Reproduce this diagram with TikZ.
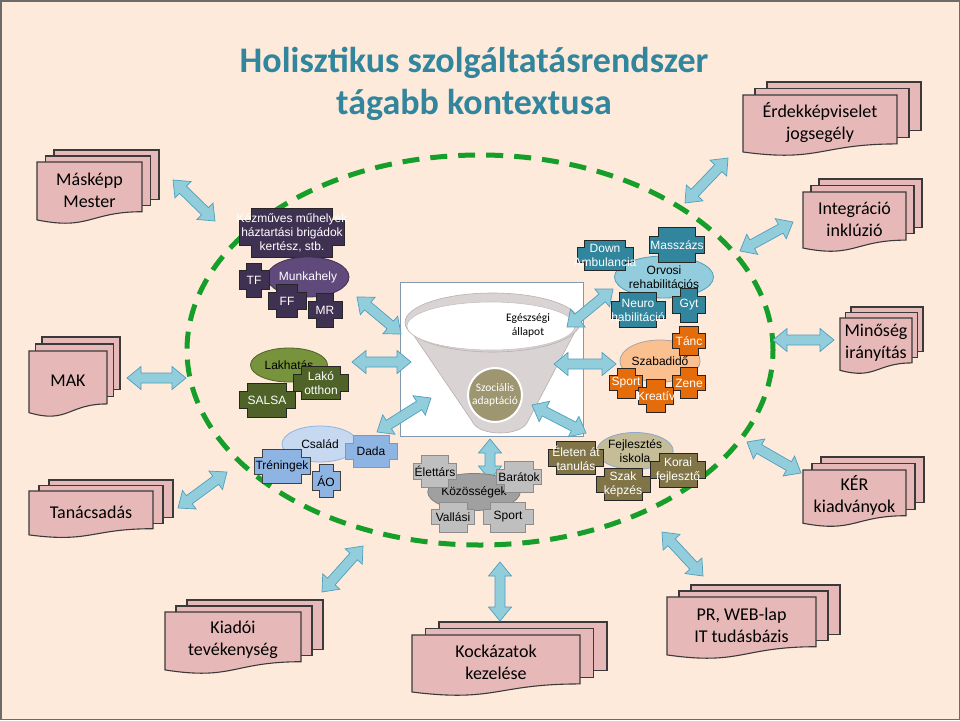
\documentclass[tikz,border=0pt]{standalone}
\usepackage{fontspec}
\setmainfont{Carlito}
\newfontfamily\arialf{Liberation Sans}
\usetikzlibrary{calc,shapes.geometric}
\definecolor{bg}{HTML}{FDEADA}
\definecolor{framec}{HTML}{6B6B6B}
\definecolor{titlec}{HTML}{31859C}
\definecolor{pinkc}{HTML}{E6B9B8}
\definecolor{docline}{HTML}{3A3A3A}
\definecolor{greenc}{HTML}{169E2A}
\definecolor{arrfill}{HTML}{92CDDC}
\definecolor{arrline}{HTML}{4F9FBD}
\definecolor{purd}{HTML}{3F3151}
\definecolor{purm}{HTML}{604A7B}
\definecolor{grnl}{HTML}{77933C}
\definecolor{grnd}{HTML}{4F6228}
\definecolor{teald}{HTML}{31859C}
\definecolor{teall}{HTML}{93CDDD}
\definecolor{orad}{HTML}{E46C0A}
\definecolor{oral}{HTML}{FAC090}
\definecolor{blul}{HTML}{C6D9F1}
\definecolor{blum}{HTML}{8EB4E3}
\definecolor{gryd}{HTML}{A0A0A0}
\definecolor{gryl}{HTML}{BFBFBF}
\definecolor{tanl}{HTML}{C4BD97}
\definecolor{tand}{HTML}{817547}
\definecolor{funnelc}{HTML}{DAD3D3}
\definecolor{funnell}{HTML}{B8B0B0}
\definecolor{khaki}{HTML}{9E9571}
\definecolor{boxline}{HTML}{8497B0}

% multi-document shape: name, x1, y1, w, H, dx, dy, text
\newcommand\mdoc[8]{%
  \filldraw[docsty] (#2+2*#6,#3-2*#7) rectangle (#2+#4+2*#6,#3+0.802*#5-2*#7);
  \filldraw[docsty] (#2+#6,#3-#7) rectangle (#2+#4+#6,#3+0.802*#5-#7);
  \filldraw[docsty] (#2,#3) -- (#2+#4,#3) -- (#2+#4,#3+0.802*#5)
     .. controls (#2+0.5*#4,#3+0.802*#5) and (#2+0.5*#4,#3+1.107*#5) .. (#2,#3+0.934*#5) -- cycle;
  \node[doctext] (#1) at (#2+0.5*#4,#3+0.45*#5) {#8};
}
% plus-shaped node: [style]{textcolor}{name}{cx}{cy}{w}{h}{text}
\newcommand\pnode[8][]{%
  \pgfmathsetmacro\pn{0.25*min(#6,#7)}%
  \pgfmathsetmacro\pa{#4-#6/2}%
  \pgfmathsetmacro\pb{#5-#7/2}%
  \pgfmathsetmacro\pc{#4+#6/2}%
  \pgfmathsetmacro\pd{#5+#7/2}%
  \filldraw[#1] (\pa+\pn,\pb) -- (\pc-\pn,\pb) -- (\pc-\pn,\pb+\pn) -- (\pc,\pb+\pn) -- (\pc,\pd-\pn) -- (\pc-\pn,\pd-\pn) -- (\pc-\pn,\pd) -- (\pa+\pn,\pd) -- (\pa+\pn,\pd-\pn) -- (\pa,\pd-\pn) -- (\pa,\pb+\pn) -- (\pa+\pn,\pb+\pn) -- cycle;
  \node[ntext, text=#2] (#3) at (#4,#5) {#8};
}
% block double arrow between two named coordinates
\newcommand\barrow[2]{%
  \path let \p1=(#1), \p2=(#2) in \pgfextra{%
    \pgfmathsetmacro\tmpA{atan2(\y2-\y1,\x2-\x1)}%
    \pgfmathsetmacro\tmpL{veclen(\x2-\x1,\y2-\y1)}%
    \xdef\BA{\tmpA}\xdef\BL{\tmpL}};
  \begin{scope}[shift={(#1)}, rotate=\BA]
    \filldraw[barrowsty] (0pt,0pt) -- (14pt,11.5pt) -- (14pt,5pt) -- (\BL pt-14pt,5pt) -- (\BL pt-14pt,11.5pt) -- (\BL pt,0pt) -- (\BL pt-14pt,-11.5pt) -- (\BL pt-14pt,-5pt) -- (14pt,-5pt) -- (14pt,-11.5pt) -- cycle;
  \end{scope}}

\begin{document}
\begin{tikzpicture}[x=1pt,y=-1pt,
  docsty/.style={fill=pinkc, draw=docline, line width=1.1pt},
  doctext/.style={font=\fontsize{18}{22}\selectfont, align=center, inner sep=0pt},
  ntext/.style={font=\arialf\fontsize{12}{14}\selectfont, align=center, inner sep=0pt},
  barrowsty/.style={fill=arrfill, draw=arrline, line width=0.7pt},
  pur/.style={fill=purd, draw=black!85, line width=0.8pt},
  grn/.style={fill=grnd, draw=black!85, line width=0.8pt},
  tea/.style={fill=teald, draw=black!85, line width=0.8pt},
  ora/.style={fill=orad, draw=black!85, line width=0.8pt},
  blu/.style={fill=blum, draw=black!75, line width=0.8pt},
  blus/.style={fill=blum, draw=blum!85!black, line width=0.8pt},
  gry/.style={fill=gryl, draw=gray!90, line width=0.8pt},
  tan/.style={fill=tand, draw=black!85, line width=0.8pt},
  ell/.style={ellipse, inner sep=0pt, line width=0.8pt, font=\arialf\fontsize{12}{14}\selectfont, align=center}
]
\useasboundingbox (0,0) rectangle (960,720);
\fill[bg] (0,0) rectangle (960,720);
\draw[framec, line width=1.5pt] (0.75,0.75) rectangle (959.25,719.25);

% title
\node[font=\bfseries\fontsize{36}{42}\selectfont, text=titlec, align=center, inner sep=0pt] (title) at (474,84) {Holisztikus szolgáltatásrendszer\\tágabb kontextusa};

% dashed boundary
\draw[greenc, line width=5pt, dash pattern=on 17pt off 11pt] (480,350) ellipse [x radius=293pt, y radius=195pt];

% outer documents
\mdoc{maskepp}{37}{162}{105}{62}{8.5}{6}{Másképp\\Mester}
\mdoc{erdek}{743}{95}{154}{61}{12}{6.5}{Érdekképviselet\\jogsegély}
\mdoc{integr}{803}{192}{103}{60}{8}{6.5}{Integráció\\inklúzió}
\mdoc{minoseg}{840}{318}{72}{56}{5.5}{5.5}{Minőség\\irányítás}
\mdoc{ker}{803}{470}{103}{57}{9}{6.5}{KÉR\\kiadványok}
\mdoc{mak}{29}{351}{78}{66}{6.5}{7}{MAK}
\mdoc{tanacs}{29}{491}{124}{47}{10}{5.5}{Tanácsadás}
\mdoc{kiadoi}{165}{612}{136}{62}{11}{6}{Kiadói\\tevékenység}
\mdoc{kockazat}{412}{635}{168}{61}{13.5}{6.5}{Kockázatok\\kezelése}
\mdoc{pr}{667}{597}{149}{62}{12}{6}{PR, WEB-lap\\IT tudásbázis}

% outer arrow end points
\coordinate (m1) at (173,180); \coordinate (m2) at (215,221);
\coordinate (k1) at (127,378); \coordinate (k2) at (186,378);
\coordinate (t1) at (178,508); \coordinate (t2) at (227,472);
\coordinate (ki1) at (322,592); \coordinate (ki2) at (363,546);
\coordinate (ko1) at (500,562); \coordinate (ko2) at (500,621);
\coordinate (p1) at (662,532); \coordinate (p2) at (703,576);
\coordinate (ke1) at (747,442); \coordinate (ke2) at (801,473);
\coordinate (mi1) at (773,340); \coordinate (mi2) at (834,340);
\coordinate (in1) at (740,251); \coordinate (in2) at (793,222);
\coordinate (e1) at (685,203); \coordinate (e2) at (728,158);
\barrow{m1}{m2}\barrow{k1}{k2}\barrow{t1}{t2}\barrow{ki1}{ki2}\barrow{ko1}{ko2}
\barrow{p1}{p2}\barrow{ke1}{ke2}\barrow{mi1}{mi2}\barrow{in1}{in2}\barrow{e1}{e2}

% central box with funnel
\filldraw[fill=white, draw=boxline, line width=1pt] (400,282) rectangle (583,436);
\filldraw[fill=funnelc, draw=funnell, line width=0.6pt] (406,324) -- (472,421) .. controls (478,437) and (522,437) .. (528,421) -- (579,324) -- cycle;
\filldraw[fill=funnelc, draw=funnell, line width=0.6pt] (492.5,322.5) ellipse [x radius=87.5pt, y radius=29.5pt];
\filldraw[fill=white, draw=funnell!80, line width=0.6pt] (491,326) ellipse [x radius=84pt, y radius=24pt];
\node[font=\fontsize{11.5}{14}\selectfont, align=center, inner sep=0pt] (egesz) at (528,325) {Egészségi\\állapot};
\node[circle, fill=khaki, draw=white, line width=2pt, minimum size=54pt, inner sep=0pt, text=white, font=\fontsize{11.5}{12.5}\selectfont, align=center] (szoc) at (495,395) {Szociális\\adaptáció};

% inner arrows
\coordinate (lu1) at (357,297); \coordinate (lu2) at (401,334);
\coordinate (lm1) at (352,362); \coordinate (lm2) at (411,362);
\coordinate (ll1) at (377,432); \coordinate (ll2) at (431,398);
\coordinate (ru1) at (567,327); \coordinate (ru2) at (613,289);
\coordinate (rm1) at (554,364); \coordinate (rm2) at (616,364);
\coordinate (rl1) at (532,405); \coordinate (rl2) at (586,433);
\coordinate (bc1) at (490,439); \coordinate (bc2) at (490,480);
\barrow{lu1}{lu2}\barrow{lm1}{lm2}\barrow{ll1}{ll2}\barrow{ru1}{ru2}
\barrow{rm1}{rm2}\barrow{rl1}{rl2}\barrow{bc1}{bc2}

% work cluster
\pnode[pur]{white}{kezm}{292}{233}{105}{49}{Kézműves műhelyek\\háztartási brigádok\\kertész, stb.}
\node[ell, fill=purm, draw=purd, minimum width=78pt, minimum height=40pt, text=white] (munka) at (308,277) {Munkahely};
\pnode[pur]{white}{tf}{254}{280}{30}{34}{TF}
\pnode[pur]{white}{ff}{287}{301}{38}{33}{FF}
\pnode[pur]{white}{mr}{325}{310}{34}{34}{MR}

% housing cluster
\node[ell, fill=grnl, draw=grnd, minimum width=77pt, minimum height=34pt, text=black] (lakh) at (289,365) {Lakhatás};
\pnode[grn]{white}{salsa}{267}{400}{56}{34}{SALSA}
\pnode[grn]{white}{lako}{321}{383}{55}{33}{Lakó\\otthon}

% medical cluster
\node[ell, fill=teall, draw=arrline, minimum width=86pt, minimum height=42pt, text=black] (orvosi) at (664,277) {Orvosi\\rehabilitációs};
\pnode[tea]{white}{down}{605}{255}{56}{30}{Down\\Ambulancia}
\pnode[tea]{white}{massz}{677}{245}{55}{35}{Masszázs}
\pnode[tea]{white}{neuro}{638}{310}{54}{35}{Neuro\\habilitáció}
\pnode[tea]{white}{gyt}{689}{305}{33}{34}{Gyt}

% leisure cluster
\node[ell, fill=oral, draw=gray!70, minimum width=78pt, minimum height=42pt, text=black] (szabad) at (660,361) {Szabadidő};
\pnode[ora]{white}{tanc}{689}{341}{33}{29}{Tánc}
\pnode[ora]{white}{sport}{626}{383}{33}{30}{Sport}
\pnode[ora]{white}{zene}{689}{383}{33}{31}{Zene}
\pnode[ora]{white}{kreativ}{656}{396}{35}{33}{Kreatív}

% family cluster
\node[ell, fill=blul, draw=blum, minimum width=76pt, minimum height=36pt, text=black] (csalad) at (320,444) {Család};
\pnode[blus]{black}{dada}{371}{451}{52}{32}{Dada}
\pnode[blu]{black}{trening}{282}{466}{56}{34}{Tréningek}
\pnode[blu]{black}{ao}{326}{481}{28}{33}{ÁO}

% community cluster
\node[ell, fill=gryd, draw=gray, minimum width=78pt, minimum height=37pt, text=black] (kozos) at (474,492) {Közösségek};
\pnode[gry]{black}{elettars}{435}{471}{43}{32}{Élettárs}
\pnode[gry]{black}{baratok}{519}{477}{45}{31}{Barátok}
\pnode[gry]{black}{vallasi}{453}{517}{43}{30}{Vallási}
\pnode[gry]{black}{sport2}{508}{517}{50}{30}{Sport}

% education cluster
\node[ell, fill=tanl, draw=blum!80!gray, minimum width=76pt, minimum height=37pt, text=black] (fejl) at (635,451) {Fejlesztés\\iskola};
\pnode[tan]{white}{eleten}{576}{458}{55}{33}{Életen át\\tanulás}
\pnode[tan]{white}{szak}{623}{484}{54}{32}{Szak\\képzés}
\pnode[tan]{white}{korai}{678}{470}{55}{34}{Korai\\fejlesztő}
\end{tikzpicture}
\end{document}
